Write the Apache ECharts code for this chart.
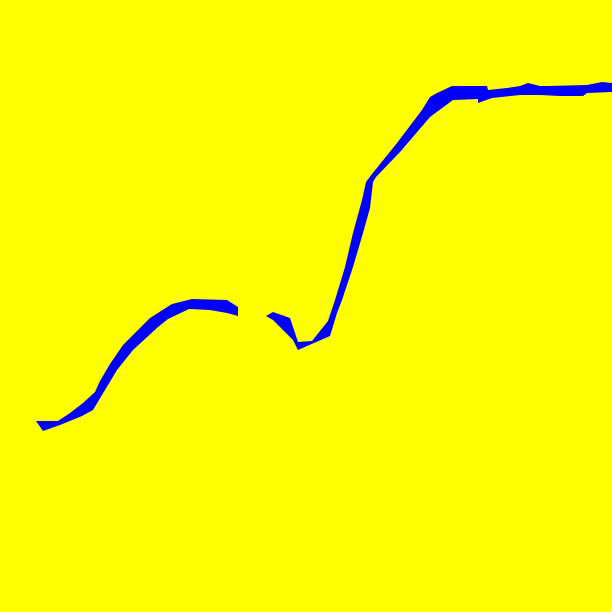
<!DOCTYPE html>
<html>
<head>
<meta charset="utf-8">
<script src="https://cdn.jsdelivr.net/npm/echarts@6/dist/echarts.min.js"></script>
<style>
  html, body { margin: 0; padding: 0; background: #ffff00; }
  #chart { width: 612px; height: 612px; }
</style>
</head>
<body>
<div id="chart"></div>
<script>
// band edges, [x, y] pairs; the band has a gap in the middle
var upperLeft = [[36, 191], [58, 191], [70, 199], [83, 209], [95, 220], [100, 231], [110, 248], [123, 267],
  [150, 294], [172, 308], [192, 313], [227, 312], [238, 305]];
var lowerLeft = [[36, 191], [43, 181], [60, 187], [82, 196], [93, 202], [102, 217], [117, 242], [133, 262],
  [158, 285], [168, 293], [189, 303], [210, 302], [227, 299], [238, 296]];
var upperRight = [[266, 296], [273, 300], [290, 294], [298, 270], [312, 271], [328, 291], [335, 312], [345, 345],
  [353, 379], [362, 412], [366, 430], [372, 438], [397, 469], [422, 502], [430, 515], [437, 519], [452, 526],
  [487, 526], [488, 522], [507, 524], [520, 526], [528, 529], [540, 526], [548, 526], [587, 527], [602, 530], [612, 529]];
var lowerRight = [[266, 296], [273, 292], [293, 272], [298, 262], [330, 276], [337, 299], [342, 312], [353, 345],
  [363, 379], [370, 404], [373, 430], [376, 435], [400, 460], [430, 495], [453, 512], [478, 513], [478, 509],
  [492, 514], [520, 517], [540, 517], [560, 516], [583, 516], [587, 519], [612, 520]];

var segments = [
  { upper: upperLeft, lower: lowerLeft },
  { upper: upperRight, lower: lowerRight }
];

var chart = echarts.init(document.getElementById('chart'));

var option = {
  backgroundColor: '#ffff00',
  animation: false,
  grid: { left: 0, right: 0, top: 0, bottom: 0 },
  xAxis: { type: 'value', min: 0, max: 612, show: false },
  yAxis: { type: 'value', min: 0, max: 612, show: false },
  series: [{
    type: 'custom',
    silent: true,
    data: segments.map(function (s) { return s.upper[0]; }),
    renderItem: function (params, api) {
      var seg = segments[params.dataIndex];
      var pts = seg.upper.map(function (p) { return api.coord(p); })
        .concat(seg.lower.slice().reverse().map(function (p) { return api.coord(p); }));
      return {
        type: 'polygon',
        shape: { points: pts },
        style: { fill: '#0000ff', stroke: null }
      };
    }
  }]
};

chart.setOption(option);
</script>
</body>
</html>
